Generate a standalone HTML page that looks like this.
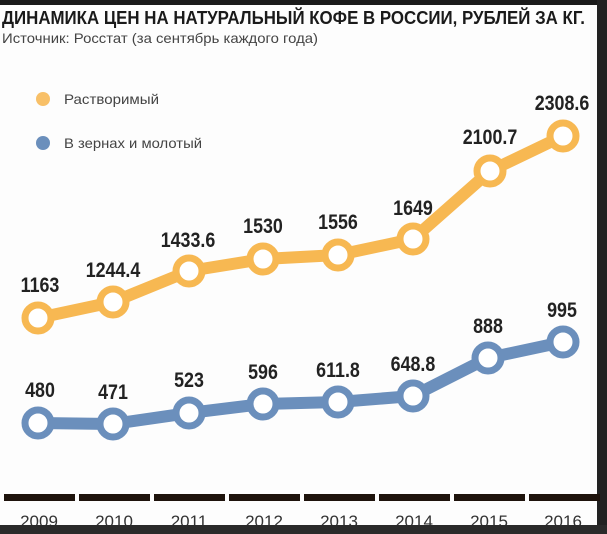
<!DOCTYPE html>
<html><head><meta charset="utf-8"><style>
html,body{margin:0;padding:0;background:#fff}
body{width:607px;height:534px;position:relative;overflow:hidden;font-family:"Liberation Sans","DejaVu Sans",sans-serif}
</style></head><body>
<svg width="607" height="534" viewBox="0 0 607 534" xmlns="http://www.w3.org/2000/svg" style="position:absolute;left:0;top:0">
<rect x="0" y="0" width="607" height="534" fill="#fdfdfd"/>
<rect x="0" y="0" width="607" height="5" fill="#1a1a1a"/>
<rect x="597" y="0" width="10" height="534" fill="#222"/>
<rect x="0" y="525" width="607" height="9" fill="#2a2a2a"/>
<g font-family="Liberation Sans, DejaVu Sans, sans-serif">
<text x="2" y="24" font-size="18" font-weight="bold" fill="#1a1a1a" textLength="583" lengthAdjust="spacingAndGlyphs">ДИНАМИКА ЦЕН НА НАТУРАЛЬНЫЙ КОФЕ В РОССИИ, РУБЛЕЙ ЗА КГ.</text>
<text x="2" y="43" font-size="14" fill="#444" textLength="316" lengthAdjust="spacingAndGlyphs">Источник: Росстат (за сентябрь каждого года)</text>
<circle cx="43" cy="99" r="7" fill="#f8c068"/>
<text x="64" y="104" font-size="14" fill="#444" textLength="95" lengthAdjust="spacingAndGlyphs">Растворимый</text>
<circle cx="43" cy="143" r="7" fill="#6b8fbc"/>
<text x="64" y="148" font-size="14" fill="#444" textLength="138" lengthAdjust="spacingAndGlyphs">В зернах и молотый</text>
</g>
<g fill="none" stroke-linejoin="round">
<polyline points="38,318 113,302 189,271 263,259 338,255 413,239 490,171 563,136" stroke="#f7b852" stroke-width="12"/>
<polyline points="38,423 113,424 189,413 263,404 338,402 413,396 488,358 563,342" stroke="#6b8fbc" stroke-width="12"/>
</g>
<g stroke="#f7b852" stroke-width="7" fill="#fff">
<circle cx="38" cy="318" r="13"/><circle cx="113" cy="302" r="13"/><circle cx="189" cy="271" r="13"/><circle cx="263" cy="259" r="13"/><circle cx="338" cy="255" r="13"/><circle cx="413" cy="239" r="13"/><circle cx="490" cy="171" r="13"/><circle cx="563" cy="136" r="13"/>
</g>
<g stroke="#6b8fbc" stroke-width="7" fill="#fff">
<circle cx="38" cy="423" r="13"/><circle cx="113" cy="424" r="13"/><circle cx="189" cy="413" r="13"/><circle cx="263" cy="404" r="13"/><circle cx="338" cy="402" r="13"/><circle cx="413" cy="396" r="13"/><circle cx="488" cy="358" r="13"/><circle cx="563" cy="342" r="13"/>
</g>
<g font-family="Liberation Sans, sans-serif" font-size="21" font-weight="bold" fill="#222" text-anchor="middle">
<text x="40" y="292" transform="translate(40 0) scale(0.85 1) translate(-40 0)">1163</text>
<text x="113" y="277" transform="translate(113 0) scale(0.85 1) translate(-113 0)">1244.4</text>
<text x="188" y="247" transform="translate(188 0) scale(0.85 1) translate(-188 0)">1433.6</text>
<text x="263" y="233" transform="translate(263 0) scale(0.85 1) translate(-263 0)">1530</text>
<text x="338" y="229" transform="translate(338 0) scale(0.85 1) translate(-338 0)">1556</text>
<text x="413" y="215" transform="translate(413 0) scale(0.85 1) translate(-413 0)">1649</text>
<text x="490" y="144" transform="translate(490 0) scale(0.85 1) translate(-490 0)">2100.7</text>
<text x="562" y="110" transform="translate(562 0) scale(0.85 1) translate(-562 0)">2308.6</text>
<text x="40" y="397" transform="translate(40 0) scale(0.85 1) translate(-40 0)">480</text>
<text x="113" y="399" transform="translate(113 0) scale(0.85 1) translate(-113 0)">471</text>
<text x="189" y="387" transform="translate(189 0) scale(0.85 1) translate(-189 0)">523</text>
<text x="263" y="379" transform="translate(263 0) scale(0.85 1) translate(-263 0)">596</text>
<text x="338" y="377" transform="translate(338 0) scale(0.85 1) translate(-338 0)">611.8</text>
<text x="413" y="371" transform="translate(413 0) scale(0.85 1) translate(-413 0)">648.8</text>
<text x="488" y="333" transform="translate(488 0) scale(0.85 1) translate(-488 0)">888</text>
<text x="562" y="317" transform="translate(562 0) scale(0.85 1) translate(-562 0)">995</text>
</g>
<g fill="#1e130c">
<rect x="4" y="494" width="71" height="7"/><rect x="79" y="494" width="71" height="7"/><rect x="154" y="494" width="71" height="7"/><rect x="229" y="494" width="71" height="7"/><rect x="304" y="494" width="71" height="7"/><rect x="379" y="494" width="71" height="7"/><rect x="454" y="494" width="71" height="7"/><rect x="529" y="494" width="71" height="7"/>
</g>
<g font-family="Liberation Sans, sans-serif" font-size="17" fill="#333" text-anchor="middle">
<text x="39" y="527">2009</text><text x="114" y="527">2010</text><text x="189" y="527">2011</text><text x="264" y="527">2012</text><text x="339" y="527">2013</text><text x="414" y="527">2014</text><text x="489" y="527">2015</text><text x="563" y="527">2016</text>
</g>
<rect x="0" y="525" width="607" height="9" fill="#2a2a2a"/>
</svg>
</body></html>
